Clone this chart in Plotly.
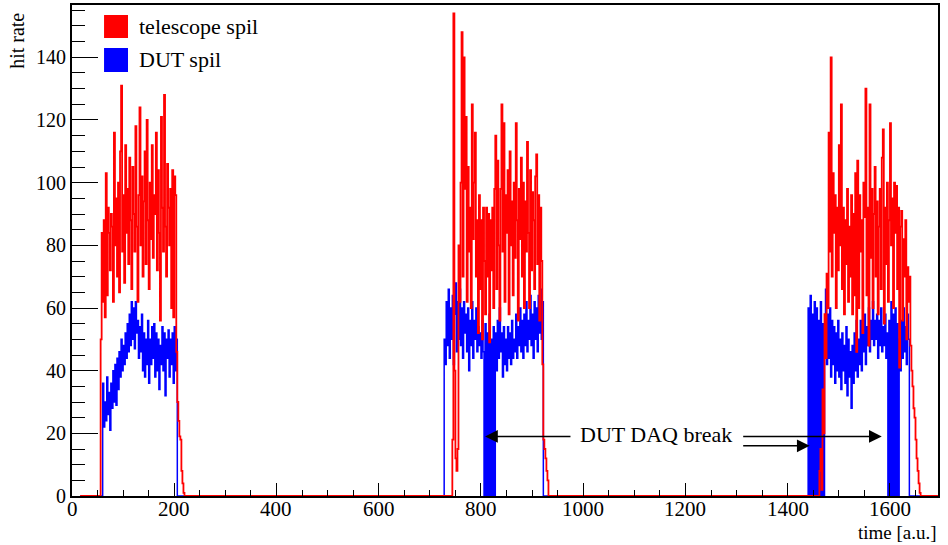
import plotly.graph_objects as go

# ---------------- data ----------------
BIN_WIDTH = 2
X_FIRST = 16
X_LAST = 1694

# telescope spil: bin contents of the three spills (start of first bin, then values)
tel_starts = [56, 744, 1462]
tel_spill1 = [50, 84, 62, 88, 57, 103, 64, 92, 84, 72, 90, 86, 62, 116, 80, 95, 70, 100, 65, 110,
              131, 78, 96, 68, 112, 84, 98, 74, 108, 88, 66, 105, 90, 78, 118, 86, 62, 96, 124, 80,
              102, 70, 94, 110, 74, 120, 88, 66, 100, 82, 112, 76, 96, 90, 116, 72, 104, 84, 56, 121,
              92, 78, 128, 86, 70, 106, 92, 80, 98, 60, 104, 57, 102, 96, 46, 30, 24, 19, 18, 8,
              4, 1, 0]
tel_spill2 = [18, 154, 40, 12, 8, 15, 80, 62, 100, 148, 70, 140, 98, 121, 62, 105, 78, 92, 60, 125,
              82, 100, 116, 70, 88, 52, 96, 66, 88, 50, 92, 75, 58, 92, 70, 90, 49, 88, 72, 92,
              60, 98, 115, 66, 107, 80, 56, 98, 125, 78, 119, 62, 96, 84, 104, 58, 110, 80, 94, 64,
              100, 76, 119, 88, 56, 98, 82, 108, 70, 100, 60, 94, 78, 113, 84, 60, 104, 72, 97, 88,
              66, 102, 109, 74, 96, 56, 92, 75, 42, 18, 15, 12, 8, 5, 0]
tel_spill3 = [8, 15, 2, 34, 20, 58, 44, 71, 60, 116, 78, 140, 70, 103, 84, 96, 60, 92, 72, 112,
              80, 125, 66, 92, 58, 88, 74, 98, 62, 86, 70, 96, 58, 90, 64, 103, 46, 107, 60, 96,
              78, 88, 52, 100, 89, 130, 64, 92, 48, 125, 76, 98, 60, 90, 105, 70, 94, 58, 86, 98,
              66, 108, 117, 55, 92, 74, 100, 62, 88, 119, 80, 95, 60, 100, 84, 99, 66, 92, 41, 86,
              91, 56, 82, 70, 88, 50, 73, 62, 70, 48, 40, 35, 28, 25, 18, 12, 8, 4, 1, 0]

# DUT spil
dut_starts = [60, 728, 1440]
dut_spill1 = [36, 22, 30, 24, 38, 26, 33, 21, 36, 28, 40, 30, 42, 29, 44, 34, 46, 38, 50, 40,
              48, 42, 52, 44, 55, 46, 58, 48, 62, 50, 60, 47, 62, 52, 56, 44, 54, 46, 58, 40,
              52, 38, 50, 42, 56, 36, 50, 42, 54, 44, 55, 38, 52, 40, 50, 34, 48, 42, 54, 40,
              52, 32, 50, 44, 53, 38, 50, 42, 52, 36, 54, 40, 50, 0]
dut_spill2 = [50, 42, 62, 48, 66, 44, 60, 50, 64, 42, 58, 68, 46, 62, 50, 66, 48, 60, 44, 62,
              52, 58, 46, 60, 40, 56, 48, 62, 44, 56, 50, 60, 46, 54, 48, 52, 44, 56, 46, 0,
              55, 0, 52, 0, 58, 0, 50, 0, 54, 0, 52, 40, 56, 44, 60, 46, 52, 38, 54, 42,
              50, 40, 54, 44, 52, 42, 56, 44, 50, 46, 58, 44, 54, 48, 60, 46, 56, 44, 58, 48,
              62, 46, 56, 50, 64, 48, 58, 44, 62, 50, 60, 46, 64, 52, 66, 50, 62, 0]
dut_spill3 = [60, 0, 64, 0, 58, 0, 62, 0, 60, 0, 56, 0, 62, 0, 55, 0, 48, 66, 42, 58,
              44, 60, 38, 56, 42, 54, 36, 52, 40, 56, 38, 50, 34, 52, 40, 48, 36, 54, 32, 50,
              38, 46, 28, 48, 36, 52, 40, 56, 38, 50, 42, 56, 40, 54, 46, 58, 42, 54, 48, 60,
              46, 56, 50, 62, 48, 56, 50, 58, 44, 56, 48, 60, 46, 54, 48, 58, 44, 52, 0, 56,
              0, 62, 0, 58, 0, 60, 0, 55, 0, 50, 40, 56, 44, 60, 46, 54, 42, 58, 50, 0]

series_names = ["telescope spil", "DUT spil"]
x_tick_values = [0, 200, 400, 600, 800, 1000, 1200, 1400, 1600]
x_tick_labels = ["0", "200", "400", "600", "800", "1000", "1200", "1400", "1600"]
y_tick_values = [0, 20, 40, 60, 80, 100, 120, 140]
note_text = "DUT DAQ break"


def build(starts, spills):
    xs, ys = [X_FIRST], [0]
    for s, vals in zip(starts, spills):
        for i, v in enumerate(vals):
            xs.append(s + BIN_WIDTH * i)
            ys.append(v)
    xs.append(X_LAST)
    ys.append(0)
    return xs, ys


tel_x, tel_y = build(tel_starts, [tel_spill1, tel_spill2, tel_spill3])
dut_x, dut_y = build(dut_starts, [dut_spill1, dut_spill2, dut_spill3])

RED = "#ff0000"
BLUE = "#0000ff"
FONT = "Liberation Serif"

fig = go.Figure()
fig.add_trace(go.Scatter(x=dut_x, y=dut_y, mode="lines", line=dict(color=BLUE, width=1.5, shape="hv"),
                         name=series_names[1], showlegend=False, hoverinfo="skip"))
fig.add_trace(go.Scatter(x=tel_x, y=tel_y, mode="lines", line=dict(color=RED, width=1.8, shape="hv"),
                         name=series_names[0], showlegend=False, hoverinfo="skip"))

# ---- legend drawn ROOT-style (filled boxes) ----
fig.add_shape(type="rect", xref="paper", yref="paper", x0=0.037, x1=0.0647, y0=0.9328, y1=0.9796,
              fillcolor=RED, line=dict(width=0))
fig.add_shape(type="rect", xref="paper", yref="paper", x0=0.037, x1=0.0647, y0=0.8635, y1=0.9124,
              fillcolor=BLUE, line=dict(width=0))
fig.add_annotation(xref="paper", yref="paper", x=0.075, y=0.957, text=series_names[0], showarrow=False,
                   xanchor="left", yanchor="middle", font=dict(family=FONT, size=22, color="black"))
fig.add_annotation(xref="paper", yref="paper", x=0.075, y=0.889, text=series_names[1], showarrow=False,
                   xanchor="left", yanchor="middle", font=dict(family=FONT, size=22, color="black"))

# ---- DUT DAQ break note with arrows ----
fig.add_annotation(x=1143, y=19.5, text=note_text, showarrow=False, xanchor="center", yanchor="middle",
                   font=dict(family=FONT, size=22, color="black"))
arrow_style = dict(showarrow=True, text="", axref="x", ayref="y", arrowhead=2, arrowsize=1.7,
                   arrowwidth=1.5, arrowcolor="black")
fig.add_annotation(x=808, y=19.0, ax=978, ay=19.0, **arrow_style)
fig.add_annotation(x=1584, y=19.0, ax=1310, ay=19.0, **arrow_style)
fig.add_annotation(x=1443, y=16.0, ax=1310, ay=16.0, **arrow_style)

# ---- x tick labels (placed close under the axis, as in ROOT) ----
for v, lab in zip(x_tick_values, x_tick_labels):
    fig.add_annotation(x=v, xref="x", yref="paper", y=0.0, text=lab, showarrow=False,
                       xanchor="center", yanchor="top", borderpad=0,
                       font=dict(family=FONT, size=21, color="black"))

# ---- axis titles ----
fig.add_annotation(xref="paper", yref="paper", x=1.0, y=-0.0743, text="time [a.u.]", showarrow=False,
                   xanchor="right", yanchor="middle", borderpad=0,
                   font=dict(family=FONT, size=19, color="black"))
fig.add_annotation(xref="paper", yref="paper", x=-0.0635, y=0.927, text="hit rate", showarrow=False,
                   textangle=-90, xanchor="center", yanchor="middle",
                   font=dict(family=FONT, size=20, color="black"))

fig.update_layout(
    width=948, height=545,
    margin=dict(l=72, r=10, t=5, b=49, autoexpand=False),
    paper_bgcolor="white", plot_bgcolor="white",
    showlegend=False,
    xaxis=dict(range=[0, X_LAST], tickvals=x_tick_values, showticklabels=False, ticks="inside",
               ticklen=13, tickwidth=1,
               tickcolor="black", showgrid=False, zeroline=False, showline=True, linecolor="black",
               linewidth=2, mirror=True,
               minor=dict(dtick=50, tick0=0, ticks="inside", ticklen=6, tickcolor="black", showgrid=False)),
    yaxis=dict(range=[0, 156.7], tickvals=y_tick_values, ticks="inside", ticklen=26, tickwidth=1,
               tickcolor="black", showgrid=False, zeroline=False, showline=True, linecolor="black",
               linewidth=2, mirror=True,
               minor=dict(dtick=5, tick0=0, ticks="inside", ticklen=13, tickcolor="black", showgrid=False),
               tickfont=dict(family=FONT, size=20, color="black")),
)

fig.write_html("out.html", config={"displayModeBar": False},
               post_script="document.body.style.margin='0';")
